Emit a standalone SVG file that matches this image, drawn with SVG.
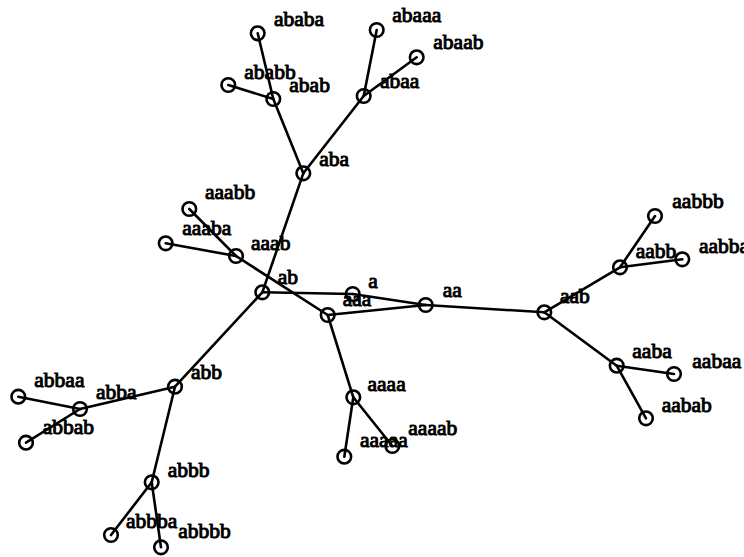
<svg xmlns="http://www.w3.org/2000/svg" width="744" height="557" viewBox="0 0 744 557">
<style>
.e line{stroke:#000;stroke-width:2.6;stroke-linecap:round}
.n circle{fill:none;stroke:#000;stroke-width:2.6}
.n text{font-family:"Liberation Serif","Times New Roman",serif;font-size:21.5px;fill:#000;stroke:#000;stroke-width:1;stroke-linejoin:round}
</style>
<rect width="744" height="557" fill="#fff"/>
<g id="edges" class="e">
<line x1="352.7" y1="294" x2="425.7" y2="305"/>
<line x1="352.7" y1="294" x2="262.3" y2="292.3"/>
<line x1="425.7" y1="305" x2="327.7" y2="315"/>
<line x1="425.7" y1="305" x2="544.3" y2="312.3"/>
<line x1="262.3" y1="292.3" x2="303.3" y2="173.3"/>
<line x1="262.3" y1="292.3" x2="175" y2="386.7"/>
<line x1="327.7" y1="315" x2="353.3" y2="397.3"/>
<line x1="327.7" y1="315" x2="236" y2="256"/>
<line x1="544.3" y1="312.3" x2="616.7" y2="365.7"/>
<line x1="544.3" y1="312.3" x2="620" y2="267.3"/>
<line x1="303.3" y1="173.3" x2="363.7" y2="96"/>
<line x1="303.3" y1="173.3" x2="273.3" y2="99"/>
<line x1="175" y1="386.7" x2="80" y2="409"/>
<line x1="175" y1="386.7" x2="151.7" y2="482.3"/>
<line x1="353.3" y1="397.3" x2="344.3" y2="456.7"/>
<line x1="353.3" y1="397.3" x2="392.3" y2="446"/>
<line x1="236" y1="256" x2="165.7" y2="243.3"/>
<line x1="236" y1="256" x2="189.3" y2="209"/>
<line x1="616.7" y1="365.7" x2="674" y2="374"/>
<line x1="616.7" y1="365.7" x2="646" y2="418.3"/>
<line x1="620" y1="267.3" x2="682.3" y2="259.3"/>
<line x1="620" y1="267.3" x2="655" y2="216"/>
<line x1="363.7" y1="96" x2="376.7" y2="30"/>
<line x1="363.7" y1="96" x2="416.7" y2="57.3"/>
<line x1="273.3" y1="99" x2="257.7" y2="33.3"/>
<line x1="273.3" y1="99" x2="228.3" y2="85"/>
<line x1="80" y1="409" x2="18.3" y2="396.7"/>
<line x1="80" y1="409" x2="26" y2="442.7"/>
<line x1="151.7" y1="482.3" x2="111" y2="535"/>
<line x1="151.7" y1="482.3" x2="161" y2="547.3"/>
</g>
<g id="n-a" class="n"><circle cx="352.7" cy="294" r="6.8"/><text x="368.3" y="287.5">a</text></g>
<g id="n-aa" class="n"><circle cx="425.7" cy="305" r="6.8"/><text x="442.7" y="297">aa</text></g>
<g id="n-ab" class="n"><circle cx="262.3" cy="292.3" r="6.8"/><text x="277.7" y="284">ab</text></g>
<g id="n-aaa" class="n"><circle cx="327.7" cy="315" r="6.8"/><text x="342.7" y="306">aaa</text></g>
<g id="n-aab" class="n"><circle cx="544.3" cy="312.3" r="6.8"/><text x="560" y="302.5">aab</text></g>
<g id="n-aba" class="n"><circle cx="303.3" cy="173.3" r="6.8"/><text x="319.3" y="166">aba</text></g>
<g id="n-abb" class="n"><circle cx="175" cy="386.7" r="6.8"/><text x="191" y="379">abb</text></g>
<g id="n-aaaa" class="n"><circle cx="353.3" cy="397.3" r="6.8"/><text x="367.5" y="390.5">aaaa</text></g>
<g id="n-aaab" class="n"><circle cx="236" cy="256" r="6.8"/><text x="251" y="250">aaab</text></g>
<g id="n-aaba" class="n"><circle cx="616.7" cy="365.7" r="6.8"/><text x="632.3" y="357.5">aaba</text></g>
<g id="n-aabb" class="n"><circle cx="620" cy="267.3" r="6.8"/><text x="635.7" y="257.5">aabb</text></g>
<g id="n-abaa" class="n"><circle cx="363.7" cy="96" r="6.8"/><text x="380" y="88">abaa</text></g>
<g id="n-abab" class="n"><circle cx="273.3" cy="99" r="6.8"/><text x="289.3" y="91.5">abab</text></g>
<g id="n-abba" class="n"><circle cx="80" cy="409" r="6.8"/><text x="96" y="399">abba</text></g>
<g id="n-abbb" class="n"><circle cx="151.7" cy="482.3" r="6.8"/><text x="167.7" y="477">abbb</text></g>
<g id="n-aaaaa" class="n"><circle cx="344.3" cy="456.7" r="6.8"/><text x="360" y="447">aaaaa</text></g>
<g id="n-aaaab" class="n"><circle cx="392.3" cy="446" r="6.8"/><text x="408.3" y="435">aaaab</text></g>
<g id="n-aaaba" class="n"><circle cx="165.7" cy="243.3" r="6.8"/><text x="182.3" y="235">aaaba</text></g>
<g id="n-aaabb" class="n"><circle cx="189.3" cy="209" r="6.8"/><text x="205" y="199">aaabb</text></g>
<g id="n-aabaa" class="n"><circle cx="674" cy="374" r="6.8"/><text x="692.3" y="367.5">aabaa</text></g>
<g id="n-aabab" class="n"><circle cx="646" cy="418.3" r="6.8"/><text x="661.7" y="411.5">aabab</text></g>
<g id="n-aabba" class="n"><circle cx="682.3" cy="259.3" r="6.8"/><text x="699" y="252.5">aabba</text></g>
<g id="n-aabbb" class="n"><circle cx="655" cy="216" r="6.8"/><text x="672.3" y="207.5">aabbb</text></g>
<g id="n-abaaa" class="n"><circle cx="376.7" cy="30" r="6.8"/><text x="392.3" y="22">abaaa</text></g>
<g id="n-abaab" class="n"><circle cx="416.7" cy="57.3" r="6.8"/><text x="433.3" y="49">abaab</text></g>
<g id="n-ababa" class="n"><circle cx="257.7" cy="33.3" r="6.8"/><text x="274" y="26">ababa</text></g>
<g id="n-ababb" class="n"><circle cx="228.3" cy="85" r="6.8"/><text x="244.3" y="79">ababb</text></g>
<g id="n-abbaa" class="n"><circle cx="18.3" cy="396.7" r="6.8"/><text x="34.3" y="387">abbaa</text></g>
<g id="n-abbab" class="n"><circle cx="26" cy="442.7" r="6.8"/><text x="42.7" y="433.5">abbab</text></g>
<g id="n-abbba" class="n"><circle cx="111" cy="535" r="6.8"/><text x="126" y="527.5">abbba</text></g>
<g id="n-abbbb" class="n"><circle cx="161" cy="547.3" r="6.8"/><text x="178.3" y="537.5">abbbb</text></g>
</svg>
